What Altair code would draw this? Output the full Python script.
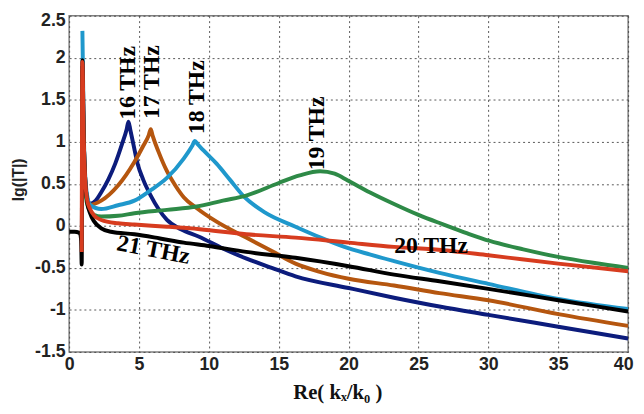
import altair as alt
import pandas as pd

# ---- data ----
x16 = [0.95, 1.05, 1.15, 1.3, 1.5, 1.9, 2.3, 2.8, 3.3, 3.8, 4.12, 4.25, 4.38, 4.6, 4.9, 5.3, 5.84, 6.4, 7.0, 8.0, 9.3, 11.0, 12.7, 14.5, 16.2, 20.0, 23.25, 26.5, 30.0, 35.0, 40.0]
y16 = [1.9, 1.0, 0.55, 0.32, 0.26, 0.3, 0.4, 0.55, 0.74, 0.98, 1.15, 1.24, 1.14, 0.97, 0.74, 0.55, 0.36, 0.2, 0.07, -0.04, -0.13, -0.27, -0.39, -0.5, -0.6, -0.74, -0.855, -0.96, -1.06, -1.2, -1.34]

x17 = [0.95, 1.05, 1.15, 1.3, 1.5, 2.3, 3.5, 4.67, 5.3, 5.7, 5.84, 5.98, 6.4, 7.0, 7.6, 8.2, 9.14, 10.55, 12.67, 14.5, 16.2, 18.0, 20.0, 23.25, 26.5, 30.0, 35.0, 40.0]
y17 = [1.85, 1.0, 0.55, 0.32, 0.25, 0.3, 0.48, 0.76, 0.95, 1.08, 1.15, 1.07, 0.88, 0.65, 0.48, 0.34, 0.21, 0.05, -0.14, -0.3, -0.45, -0.55, -0.63, -0.71, -0.8, -0.885, -1.05, -1.19]

x18 = [0.95, 1.05, 1.15, 1.3, 1.5, 2.3, 3.5, 4.67, 5.8, 7.0, 8.2, 8.8, 9.0, 9.2, 9.6, 10.55, 11.5, 12.5, 14.0, 16.2, 18.0, 19.7, 21.5, 23.25, 26.5, 30.0, 35.0, 40.0]
y18 = [2.32, 1.1, 0.6, 0.35, 0.25, 0.2, 0.245, 0.3, 0.42, 0.57, 0.8, 0.95, 1.01, 0.97, 0.9, 0.74, 0.55, 0.35, 0.16, -0.01, -0.14, -0.25, -0.34, -0.42, -0.56, -0.69, -0.87, -0.99]

x19 = [0.95, 1.05, 1.15, 1.3, 1.5, 1.8, 2.3, 3.5, 4.67, 7.0, 9.14, 11.0, 12.67, 15.0, 16.5, 17.96, 19.0, 19.94, 21.5, 23.25, 25.0, 26.8, 28.5, 30.1, 32.5, 35.0, 37.5, 40.0]
y19 = [1.8, 0.9, 0.45, 0.25, 0.18, 0.13, 0.11, 0.12, 0.15, 0.19, 0.23, 0.3, 0.36, 0.51, 0.6, 0.65, 0.62, 0.54, 0.4, 0.26, 0.13, 0.015, -0.09, -0.18, -0.28, -0.37, -0.44, -0.5]

x20 = [0.9, 0.95, 1.05, 1.15, 1.3, 1.5, 1.8, 2.3, 3.5, 4.67, 7.0, 9.36, 12.67, 16.2, 20.0, 23.25, 26.8, 30.0, 35.0, 40.0]
y20 = [-0.31, 1.95, 1.0, 0.55, 0.3, 0.2, 0.12, 0.07, 0.03, 0.015, -0.01, -0.04, -0.1, -0.14, -0.2, -0.25, -0.29, -0.35, -0.45, -0.54]

x21 = [0.0, 0.4, 0.7, 0.8, 0.86, 0.9, 0.95, 1.05, 1.15, 1.3, 1.5, 1.8, 2.3, 3.0, 4.67, 6.5, 8.2, 10.0, 12.67, 16.2, 20.0, 23.25, 26.5, 30.0, 35.0, 40.0]
y21 = [-0.07, -0.07, -0.08, -0.1, -0.18, -0.46, 1.97, 1.0, 0.55, 0.28, 0.15, 0.05, -0.03, -0.07, -0.1, -0.15, -0.2, -0.24, -0.31, -0.38, -0.48, -0.58, -0.66, -0.75, -0.885, -1.02]

series_names = ["16 THz", "17 THz", "18 THz", "19 THz", "21 THz", "20 THz"]
series_colors = ["#0c1c7c", "#b5560f", "#1f98cc", "#2e8a47", "#000000", "#d73c1f"]

label_text = ["16 THz", "17 THz", "18 THz", "19 THz", "20 THz", "21 THz"]
label_x = [4.2, 5.96, 9.14, 17.75, 25.9, 6.03]
label_y = [1.7, 1.71, 1.53, 1.1, -0.24, -0.29]
label_angle = [270, 270, 270, 270, 0, 11]

x_ticks = [0, 5, 10, 15, 20, 25, 30, 35, 40]
y_ticks = [-1.5, -1, -0.5, 0, 0.5, 1, 1.5, 2, 2.5]

# ---- build tables ----
rows = []
for name, xs_, ys_ in [("16 THz", x16, y16), ("17 THz", x17, y17), ("18 THz", x18, y18),
                       ("19 THz", x19, y19), ("21 THz", x21, y21), ("20 THz", x20, y20)]:
    for i, (a, b) in enumerate(zip(xs_, ys_)):
        rows.append({"series": name, "x": a, "y": b, "i": i})
df = pd.DataFrame(rows)

labels = pd.DataFrame({"t": label_text, "x": label_x, "y": label_y, "a": label_angle})

xs = alt.Scale(domain=[0, 40], nice=False, zero=False)
ys = alt.Scale(domain=[-1.5, 2.5], nice=False, zero=False)

lines = alt.Chart(df).mark_line(strokeWidth=4, clip=True, interpolate="monotone").encode(
    x=alt.X("x:Q", scale=xs, axis=alt.Axis(
        values=x_ticks, title="Re( kₓ/k₀ )", grid=True, domain=False, ticks=False,
        labelExpr="'' + datum.value",
        labelOffset={"condition": {"test": "datum.value == 40", "value": -5}, "value": 0},
        labelFont="Liberation Sans", labelFontWeight="bold", labelFontSize=18,
        labelColor="#222", labelPadding=4, labelFlush=False,
        titleFont="Liberation Serif", titleFontWeight="bold", titleFontSize=21,
        titleColor="#111", titleX=272, titleY=30, titleBaseline="top")),
    y=alt.Y("y:Q", scale=ys, axis=alt.Axis(
        values=y_ticks, title="lg(|T|)", grid=True, domain=False, ticks=False,
        labelExpr="'' + datum.value",
        labelOffset={"condition": {"test": "datum.value == 2.5", "value": 5}, "value": 0},
        labelFont="Liberation Sans", labelFontWeight="bold", labelFontSize=18,
        labelColor="#222", labelPadding=4, labelFlush=False,
        titleFont="Liberation Sans", titleFontWeight="bold", titleFontSize=16,
        titleColor="#222", titleX=-51, titleY=166, titleAngle=270,
        titleBaseline="middle", titleAlign="center")),
    color=alt.Color("series:N", scale=alt.Scale(domain=series_names, range=series_colors), legend=None),
    order="i:Q",
)

layers = [lines.transform_filter(alt.datum.series == name) for name in series_names]

text = alt.Chart(labels).mark_text(
    font="Liberation Serif", fontWeight="bold", fontSize=24, color="#000",
    align="center", baseline="middle"
).encode(
    x=alt.X("x:Q", scale=xs),
    y=alt.Y("y:Q", scale=ys),
    text="t:N",
    angle=alt.Angle("a:Q", scale=None),
)

chart = alt.layer(*layers, text).properties(
    width=567, height=341,
    padding={"left": 62, "top": 5, "right": 8, "bottom": 50},
    autosize=alt.AutoSizeParams(type="none"),
    background="white",
).configure_view(
    stroke="#808080", strokeWidth=1.5
).configure_axis(
    gridColor="#444", gridDash=[2, 3], gridWidth=1, gridOpacity=0.9
)

chart.save("out.html", embed_options={"renderer": "svg", "actions": False})
